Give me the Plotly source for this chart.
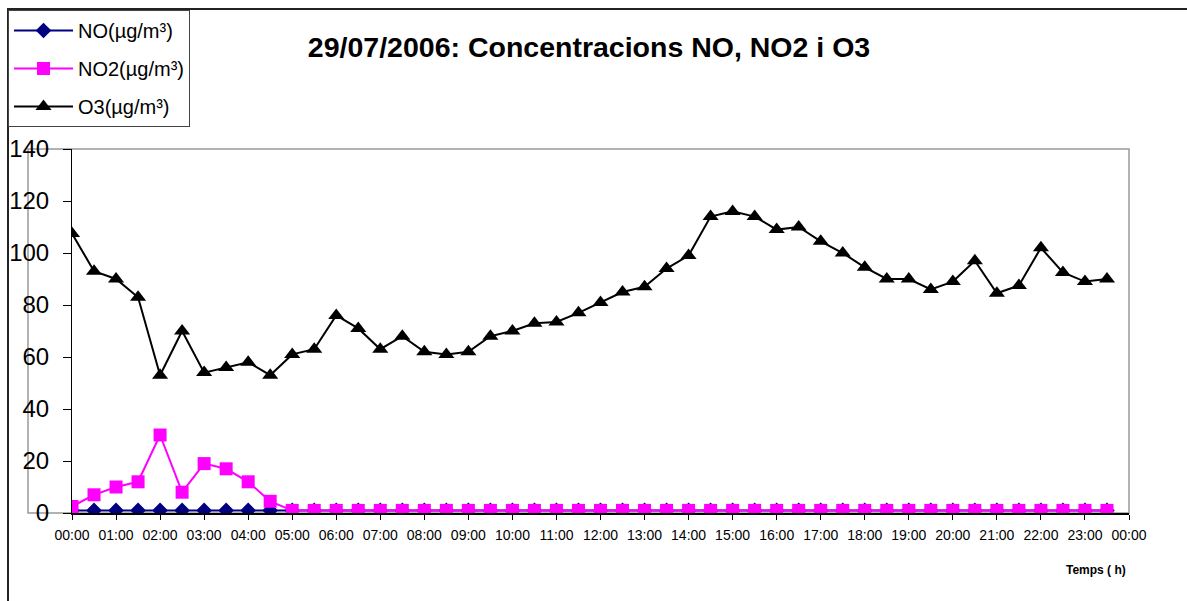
import pandas as pd
import plotly.graph_objs as go

# half-hourly readings, 29/07/2006
times = ['%02d:%02d' % (h, m) for h in range(24) for m in (0, 30)]

no = [1, 1, 1, 1, 1, 1, 1, 1, 1, 1,
      1, 1, 1, 1, 1, 1, 1, 1, 1, 1,
      1, 1, 1, 1, 1, 1, 1, 1, 1, 1,
      1, 1, 1, 1, 1, 1, 1, 1, 1, 1,
      1, 1, 1, 1, 1, 1, 1, 1]

no2 = [2.5, 7, 10, 12, 30, 8, 19, 17, 12, 4.5,
       1, 1, 1, 1, 1, 1, 1, 1, 1, 1,
       1, 1, 1, 1, 1, 1, 1, 1, 1, 1,
       1, 1, 1, 1, 1, 1, 1, 1, 1, 1,
       1, 1, 1, 1, 1, 1, 1, 1]

o3 = [107.5, 93, 90, 83, 53, 70, 54, 56, 58, 53,
      61, 63, 76, 71, 63, 68, 62, 61, 62, 68,
      70, 73, 73.5, 77, 81, 85, 87, 94, 99, 114,
      116, 114, 109, 110, 104.5, 100, 94.5, 90, 90, 86,
      89, 97, 84.5, 87.5, 102, 92.5, 89, 90]

hour_ticks = list(range(25))
hour_labels = ['%02d:00' % (h % 24) for h in hour_ticks]

df = pd.DataFrame({'time': times, 'NO': no, 'NO2': no2, 'O3': o3})
td = pd.to_timedelta(df['time'] + ':00')
df['hours'] = td.dt.total_seconds() / 3600

FONT = 'Arial, Liberation Sans, sans-serif'

series = [
    ('NO', 'NO(µg/m³)', '#000080', 'diamond', 12),
    ('NO2', 'NO2(µg/m³)', '#FF00FF', 'square', 13),
    ('O3', 'O3(µg/m³)', '#000000', 'triangle-up', 14),
]

fig = go.Figure()
for col, name, color, symbol, size in series:
    fig.add_trace(go.Scatter(x=df['hours'], y=df[col],
                             mode='lines+markers',
                             name=name,
                             legendgroup=col,
                             line=dict(color=color, width=2),
                             marker=dict(color=color, symbol=symbol, size=size,
                                         line=dict(width=0))))

# plot area: 72..1129 px wide, 149..513 px high
L, R, T, B = 72, 58, 149, 88
W, H = 1187, 601
pw, ph = W - L - R, H - T - B

def px(x):
    return (x - L) / pw

def py(y):
    return (H - B - y) / ph

fig.update_layout(
    width=W, height=H,
    margin=dict(l=L, r=R, t=T, b=B, autoexpand=False),
    plot_bgcolor='white',
    paper_bgcolor='white',
    font=dict(family=FONT, color='black'),
    showlegend=True,
    legend=dict(x=px(8), y=py(10), xanchor='left', yanchor='top',
                bgcolor='white', bordercolor='#444', borderwidth=1,
                font=dict(size=20, family=FONT), tracegroupgap=9,
                itemwidth=59),
    title=dict(text='<b>29/07/2006: Concentracions NO, NO2 i O3</b>',
               x=px(589), y=1 - 47 / H, xanchor='center', yanchor='middle',
               xref='paper', yref='container',
               font=dict(size=28.5, family=FONT)),
    xaxis=dict(range=[0, 24], tickvals=hour_ticks, ticktext=hour_labels,
               showgrid=False, zeroline=False, automargin=False,
               showline=True, linecolor='black', linewidth=2,
               ticks='outside', ticklen=5, tickcolor='black',
               ticklabelstandoff=3,
               tickfont=dict(size=14, family=FONT)),
    yaxis=dict(range=[0, 140], dtick=20,
               showgrid=False, zeroline=False, automargin=False,
               showline=True, linecolor='black', linewidth=1,
               ticks='outside', ticklen=8, tickcolor='black',
               ticklabelstandoff=9,
               tickfont=dict(size=24, family=FONT)),
    shapes=[
        dict(type='rect', xref='paper', yref='paper',
             x0=px(28), x1=1, y0=0, y1=1,
             line=dict(color='#999', width=1.5), layer='below'),
        dict(type='rect', xref='paper', yref='paper',
             x0=px(8), x1=px(1200), y0=py(9), y1=py(620),
             line=dict(color='#222', width=2), layer='above'),
    ],
    annotations=[
        dict(text='<b>Temps ( h)</b>', xref='paper', yref='paper',
             x=px(1128), y=py(570), xanchor='right', yanchor='middle',
             showarrow=False, font=dict(size=12, family=FONT)),
    ],
)

fig.write_html('out.html',
               config={'displayModeBar': False},
               post_script="document.body.style.margin='0';")
